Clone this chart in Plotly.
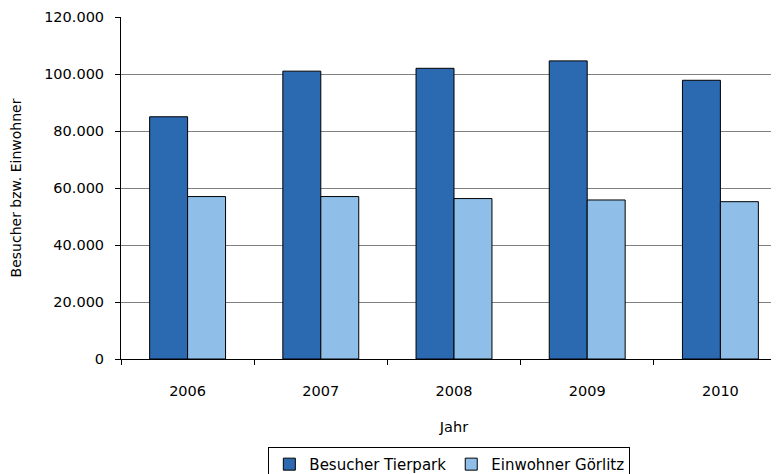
import plotly.graph_objects as go

years = ["2006", "2007", "2008", "2009", "2010"]
besucher_tierpark = [85000, 101000, 102000, 104600, 97800]
einwohner_goerlitz = [57000, 57000, 56300, 55800, 55200]
y_ticks = [0, 20000, 40000, 60000, 80000, 100000, 120000]

FONT = "DejaVu Sans"

fig = go.Figure()
fig.add_trace(go.Bar(x=years, y=besucher_tierpark, name="Besucher Tierpark",
                     marker=dict(color="#2B69B0", line=dict(color="black", width=1))))
fig.add_trace(go.Bar(x=years, y=einwohner_goerlitz, name="Einwohner Görlitz",
                     marker=dict(color="#8FBFE8", line=dict(color="black", width=1))))

fig.update_layout(
    width=779, height=474,
    margin=dict(l=113, r=0, t=9, b=122.5, autoexpand=False),
    paper_bgcolor="white", plot_bgcolor="white",
    separators=",.",
    barmode="group", bargap=0.43, bargroupgap=0,
    font=dict(family=FONT, size=14, color="black"),
    showlegend=True,
    legend=dict(orientation="h", x=0.493, xanchor="center", y=-0.257, yanchor="top",
                bordercolor="black", borderwidth=1, font=dict(size=15),
                itemwidth=30, tracegroupgap=0),
    xaxis=dict(type="category", range=[-0.5, 4.5], showline=True, linecolor="black",
               linewidth=1, ticks="outside", tickson="boundaries", ticklen=5,
               tickcolor="black", showgrid=False, tickfont=dict(size=14.5),
               ticklabelstandoff=19,
               title=dict(text="Jahr", font=dict(size=14.5), standoff=23)),
    yaxis=dict(range=[0, 120000], tickvals=y_ticks, tickformat=",d",
               showline=True, linecolor="black", linewidth=1, ticks="outside",
               ticklen=5, tickcolor="black", showgrid=True, gridcolor="#808080",
               gridwidth=1, zeroline=False, tickfont=dict(size=14.5),
               ticklabelstandoff=8,
               title=dict(text="Besucher bzw. Einwohner", font=dict(size=14), standoff=20)),
)

fig.write_html("out.html")
